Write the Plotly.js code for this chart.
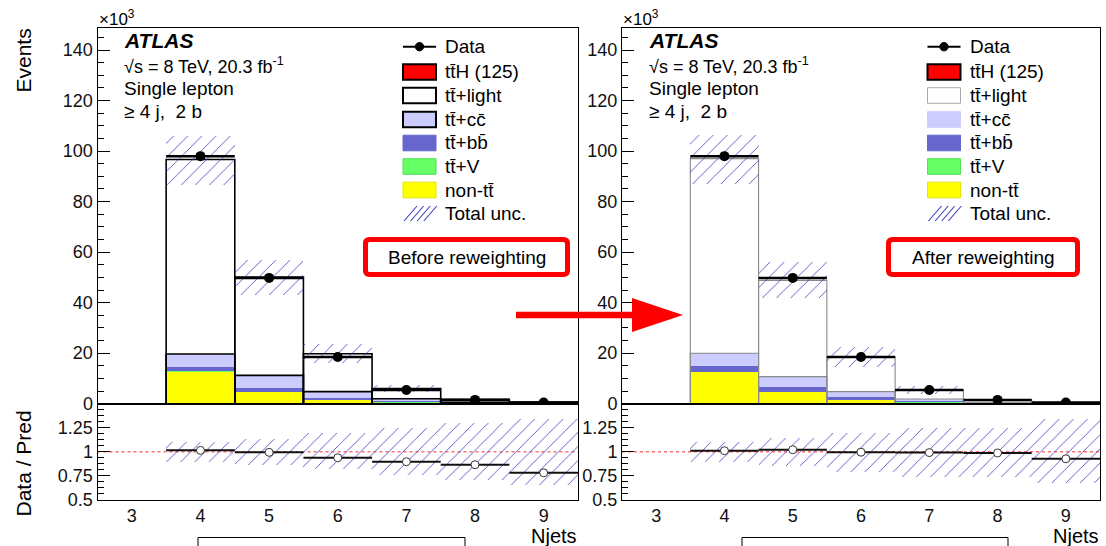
<!DOCTYPE html>
<html><head><meta charset="utf-8">
<script src="https://cdn.plot.ly/plotly-3.0.1.min.js"></script>
<style>html,body{margin:0;padding:0;background:#fff}</style>
</head><body><div id="chart" style="width:1106px;height:546px"></div>
<script>
// ---------------- data (events in units of 10^3) ----------------
const njets = [4, 5, 6, 7, 8, 9];
const binHalfWidth = [0.5, 0.5, 0.5, 0.5, 0.5, 0.5];
const dataEvents = [98.0, 49.8, 18.5, 5.4, 1.5, 0.5];

// Before reweighting
const before_nontt   = [12.6, 4.6, 1.3, 0.45, 0.12, 0.04];
const before_ttV     = [0.25, 0.15, 0.08, 0.04, 0.015, 0.006];
const before_ttbb    = [1.8, 1.55, 0.9, 0.45, 0.15, 0.06];
const before_ttcc    = [5.05, 4.9, 2.5, 1.0, 0.3, 0.12];
const before_ttlight = [76.85, 38.85, 14.9, 4.05, 1.13, 0.405];
const before_ttH     = [0.1, 0.1, 0.07, 0.04, 0.02, 0.01];
const before_uncUp   = [1.097, 1.135, 1.20, 1.25, 1.295, 1.34];
const before_uncDown = [0.896, 0.858, 0.82, 0.757, 0.705, 0.653];

// After reweighting
const after_nontt   = [12.4, 4.5, 1.4, 0.45, 0.12, 0.04];
const after_ttV     = [0.25, 0.15, 0.08, 0.04, 0.015, 0.006];
const after_ttbb    = [2.15, 1.85, 1.0, 0.45, 0.15, 0.06];
const after_ttcc    = [5.2, 4.2, 2.3, 0.95, 0.28, 0.11];
const after_ttlight = [76.9, 38.0, 13.75, 3.52, 0.935, 0.314];
const after_ttH     = [0.1, 0.1, 0.07, 0.04, 0.02, 0.01];
const after_uncUp   = [1.097, 1.146, 1.20, 1.25, 1.25, 1.34];
const after_uncDown = [0.896, 0.854, 0.79, 0.733, 0.733, 0.67];

const yTicks = [0, 20, 40, 60, 80, 100, 120, 140];
const ratioTicks = [0.5, 0.75, 1, 1.25];
const ratioTickText = ['0.5', '0.75', '1', '1.25'];
const xTicks = [3, 4, 5, 6, 7, 8, 9];
const xTickText = ['3', '4', '5', '6', '7', '8', '9'];

const legendLabels = ['Data', 'tt\u0304H (125)', 'tt\u0304+light', 'tt\u0304+cc\u0304', 'tt\u0304+bb\u0304', 'tt\u0304+V', 'non-tt\u0304', 'Total unc.'];
const panelLabels = ['Before reweighting', 'After reweighting'];

// ---------------- styling ----------------
const W = 1106, H = 546;
const FONT = 'Liberation Sans, Arial, Helvetica, sans-serif';
const px = v => v / W, py = v => 1 - v / H;
const COL = {nontt: '#ffff00', ttV: '#66ff66', ttbb: '#6666cc', ttcc: '#ccccff', ttlight: '#ffffff', ttH: '#ff0000'};
const HATCH = '#3a3ac0';
const topDom = [py(403.7), py(28.3)];
const botDom = [py(499.7), py(403.7)];
const panels = [
  {x0: 97.5, x1: 578, xa: 'x', ya: 'y', xa2: 'x2', ya2: 'y2', outline: '#000', ow: 1.6,
   comp: {nontt: before_nontt, ttV: before_ttV, ttbb: before_ttbb, ttcc: before_ttcc, ttlight: before_ttlight, ttH: before_ttH},
   up: before_uncUp, down: before_uncDown},
  {x0: 622, x1: 1100, xa: 'x3', ya: 'y3', xa2: 'x4', ya2: 'y4', outline: '#8a8a8a', ow: 1.1,
   comp: {nontt: after_nontt, ttV: after_ttV, ttbb: after_ttbb, ttcc: after_ttcc, ttlight: after_ttlight, ttH: after_ttH},
   up: after_uncUp, down: after_uncDown}
];
const order = ['nontt', 'ttV', 'ttbb', 'ttcc', 'ttlight', 'ttH'];

const traces = [];
panels.forEach(p => {
  const cum = njets.map(() => 0);
  let ccTop = null;
  order.forEach(k => {
    const vals = p.comp[k];
    traces.push({type: 'bar', x: njets, y: vals, base: cum.slice(), width: 1, xaxis: p.xa, yaxis: p.ya,
      marker: {color: COL[k], line: {width: 0}}, hoverinfo: 'skip'});
    vals.forEach((v, i) => cum[i] += v);
    if (k === 'ttcc') ccTop = cum.slice();
  });
  const pred = cum.slice();
  // outlines (tt+cc and total)
  [ccTop, pred].forEach(arr => traces.push({type: 'bar', x: njets, y: arr, width: 1, xaxis: p.xa, yaxis: p.ya,
    marker: {color: 'rgba(0,0,0,0)', line: {color: p.outline, width: p.ow}}, hoverinfo: 'skip'}));
  const pat = {shape: '/', fgcolor: HATCH, fgopacity: 1, bgcolor: 'rgba(0,0,0,0)', size: 10, solidity: 0.08, fillmode: 'overlay'};
  // total uncertainty band, main panel
  traces.push({type: 'bar', x: njets, base: pred.map((v, i) => v * p.down[i]), y: pred.map((v, i) => v * (p.up[i] - p.down[i])),
    width: 1, xaxis: p.xa, yaxis: p.ya, marker: {color: 'rgba(0,0,0,0)', line: {width: 0}, pattern: pat}, hoverinfo: 'skip'});
  // data
  traces.push({type: 'scatter', mode: 'markers', x: njets, y: dataEvents, xaxis: p.xa, yaxis: p.ya,
    marker: {color: '#000', size: 10}, error_x: {type: 'data', array: binHalfWidth, thickness: 2.5, width: 0, color: '#000'}, hoverinfo: 'skip'});
  // ratio band
  traces.push({type: 'bar', x: njets, base: p.down, y: p.up.map((u, i) => u - p.down[i]), width: 1, xaxis: p.xa2, yaxis: p.ya2,
    marker: {color: 'rgba(0,0,0,0)', line: {width: 0}, pattern: pat}, hoverinfo: 'skip'});
  // ratio points
  traces.push({type: 'scatter', mode: 'markers', x: njets, y: dataEvents.map((d, i) => d / pred[i]), xaxis: p.xa2, yaxis: p.ya2,
    marker: {color: '#fff', size: 8, line: {color: '#333', width: 1}},
    error_x: {type: 'data', array: binHalfWidth, thickness: 2, width: 0, color: '#111'}, hoverinfo: 'skip'});
});

// ---------------- axes ----------------
const layout = {width: W, height: H, margin: {l: 0, r: 0, t: 0, b: 0}, paper_bgcolor: '#fff', plot_bgcolor: 'rgba(0,0,0,0)',
  showlegend: false, barmode: 'overlay', bargap: 0, font: {family: FONT, color: '#000'}, shapes: [], annotations: []};

function axX(p, anchor, labels) {
  return {domain: [px(p.x0), px(p.x1)], anchor, range: [2.5, 9.5], showline: true, mirror: true, linecolor: '#000', linewidth: 1,
    zeroline: false, showgrid: false, ticks: '', tickvals: xTicks, ticktext: xTickText, showticklabels: labels,
    tickfont: {family: FONT, size: 18, color: '#111'}, fixedrange: true};
}
function axYTop(anchor) {
  return {domain: topDom, anchor, range: [0, 148.6], tickvals: yTicks, ticks: 'inside', ticklen: 12, tickcolor: '#000',
    minor: {dtick: 5, tick0: 0, ticks: 'inside', ticklen: 6, tickcolor: '#000'},
    showline: true, mirror: true, linecolor: '#000', linewidth: 1, zeroline: false, showgrid: false,
    tickfont: {family: FONT, size: 18, color: '#111'}, fixedrange: true};
}
function axYBot(anchor) {
  return {domain: botDom, anchor, range: [0.5, 1.5], tickvals: ratioTicks, ticktext: ratioTickText, ticks: 'inside', ticklen: 12, tickcolor: '#000',
    minor: {dtick: 0.0625, tick0: 0.5, ticks: 'inside', ticklen: 6, tickcolor: '#000'},
    showline: true, mirror: true, linecolor: '#000', linewidth: 1, zeroline: false, showgrid: false,
    tickfont: {family: FONT, size: 18, color: '#111'}, fixedrange: true};
}
layout.xaxis = axX(panels[0], 'y', false);
layout.yaxis = axYTop('x');
layout.xaxis2 = axX(panels[0], 'y2', true);
layout.yaxis2 = axYBot('x2');
layout.xaxis3 = axX(panels[1], 'y3', false);
layout.yaxis3 = axYTop('x3');
layout.xaxis4 = axX(panels[1], 'y4', true);
layout.yaxis4 = axYBot('x4');

// ---------------- annotations & shapes ----------------
function txt(x, y, text, o) {
  o = o || {};
  return {xref: 'paper', yref: 'paper', x: px(x), y: py(y), text, showarrow: false,
    xanchor: o.xanchor || 'left', yanchor: o.yanchor || 'middle', textangle: o.angle || 0,
    font: {family: FONT, size: o.size || 19, color: o.color || '#000'}};
}
function rectPx(x0, y0, x1, y1, fill, line, lw) {
  return {type: 'rect', xref: 'paper', yref: 'paper', x0: px(x0), x1: px(x1), y0: py(y1), y1: py(y0),
    fillcolor: fill, line: {color: line, width: lw}, layer: 'above'};
}
function linePx(x0, y0, x1, y1, color, w, dash) {
  return {type: 'line', xref: 'paper', yref: 'paper', x0: px(x0), x1: px(x1), y0: py(y0), y1: py(y1),
    line: {color, width: w, dash: dash || 'solid'}, layer: 'above'};
}
function roundRectPath(x0, y0, x1, y1, r) {
  const P = (x, y) => px(x) + ',' + py(y);
  return 'M' + P(x0 + r, y0) + ' L' + P(x1 - r, y0) + ' Q' + P(x1, y0) + ' ' + P(x1, y0 + r) +
    ' L' + P(x1, y1 - r) + ' Q' + P(x1, y1) + ' ' + P(x1 - r, y1) + ' L' + P(x0 + r, y1) +
    ' Q' + P(x0, y1) + ' ' + P(x0, y1 - r) + ' L' + P(x0, y0 + r) + ' Q' + P(x0, y0) + ' ' + P(x0 + r, y0) + ' Z';
}

const A = layout.annotations, S = layout.shapes;
// axis titles
A.push(txt(22.5, 27, 'Events', {angle: -90, xanchor: 'center', yanchor: 'top', size: 21}));
A.push(txt(22.5, 464, 'Data / Pred', {angle: -90, xanchor: 'center', yanchor: 'middle', size: 21}));

panels.forEach((p, idx) => {
  const dx = p.x0 - 97.5;
  A.push(txt(p.x0 - 1, 18, '\u00d710<sup>3</sup>', {size: 17}));
  A.push(txt(p.x1 + 1, 535.5, 'Njets', {xanchor: 'right', yanchor: 'middle', size: 20}));
  A.push(txt(122 + dx, 41, '<b><i>ATLAS</i></b>', {size: 21}));
  A.push(txt(122 + dx, 65, '\u221as = 8 TeV, 20.3 fb<sup>-1</sup>', {size: 18}));
  A.push(txt(122 + dx, 89, 'Single lepton', {size: 19}));
  A.push(txt(122 + dx, 112, '\u2265 4 j, \u00a02 b', {size: 19}));

  // legend
  const lx0 = 403 + dx, lx1 = 436 + dx, tx = 443 + dx;
  const ys = [46.7, 72, 95.5, 119.5, 143, 166.5, 190, 213.5];
  S.push(linePx(lx0, ys[0], lx1, ys[0], '#000', 2));
  S.push({type: 'circle', xref: 'paper', yref: 'paper', x0: px(lx0 + 12.3), x1: px(lx0 + 20.7), y0: py(ys[0] + 4.2), y1: py(ys[0] - 4.2),
    fillcolor: '#000', line: {color: '#000', width: 1}, layer: 'above'});
  const boxStyle = idx === 0
    ? [[COL.ttH, '#000', 2], [COL.ttlight, '#000', 2], [COL.ttcc, '#000', 2], [COL.ttbb, COL.ttbb, 1], [COL.ttV, '#55dd55', 1], [COL.nontt, '#e6e600', 1]]
    : [[COL.ttH, '#000', 2], [COL.ttlight, '#aaaaaa', 1], [COL.ttcc, COL.ttcc, 1], [COL.ttbb, COL.ttbb, 1], [COL.ttV, '#55dd55', 1], [COL.nontt, '#e6e600', 1]];
  boxStyle.forEach((b, i) => S.push(rectPx(lx0, ys[i + 1] - 7.8, lx1, ys[i + 1] + 7.8, b[0], b[1], b[2])));
  for (let k = 0; k < 4; k++) {
    S.push(linePx(lx0 + 1 + 6.6 * k, ys[7] + 7.5, lx0 + 14 + 6.6 * k, ys[7] - 7.5, HATCH, 1.1));
  }
  legendLabels.forEach((t, i) => A.push(txt(tx, ys[i], t, {size: 19})));

  // red labelled box
  const bx0 = idx === 0 ? 365.5 : 888.5, bx1 = idx === 0 ? 567.5 : 1077.5;
  S.push({type: 'path', xref: 'paper', yref: 'paper', path: roundRectPath(bx0, 239.5, bx1, 274.5, 4),
    fillcolor: '#fff', line: {color: '#ff0000', width: 5}, layer: 'above'});
  A.push(txt((bx0 + bx1) / 2, 257.5, panelLabels[idx], {xanchor: 'center', size: 19}));

  // ratio reference line at 1
  S.push({type: 'line', xref: p.xa2 + ' domain', yref: p.ya2, x0: 0, x1: 1, y0: 1, y1: 1,
    line: {color: '#ff7070', width: 1.5, dash: 'dot'}, layer: 'below'});

  // bracket below axis
  const kx0 = idx === 0 ? 198 : 742, kx1 = idx === 0 ? 465 : 1008;
  S.push(rectPx(kx0, 537.5, kx1, 560, 'rgba(0,0,0,0)', '#000', 1));
});

// red arrow between panels
S.push(rectPx(516, 311.7, 636, 318.3, '#ff0000', '#ff0000', 0));
S.push({type: 'path', xref: 'paper', yref: 'paper',
  path: 'M' + px(632) + ',' + py(298) + ' L' + px(683) + ',' + py(315) + ' L' + px(632) + ',' + py(332) + ' Z',
  fillcolor: '#ff0000', line: {color: '#ff0000', width: 0}, layer: 'above'});

Plotly.newPlot('chart', traces, layout, {staticPlot: true, displayModeBar: false});
</script>
</body></html>
